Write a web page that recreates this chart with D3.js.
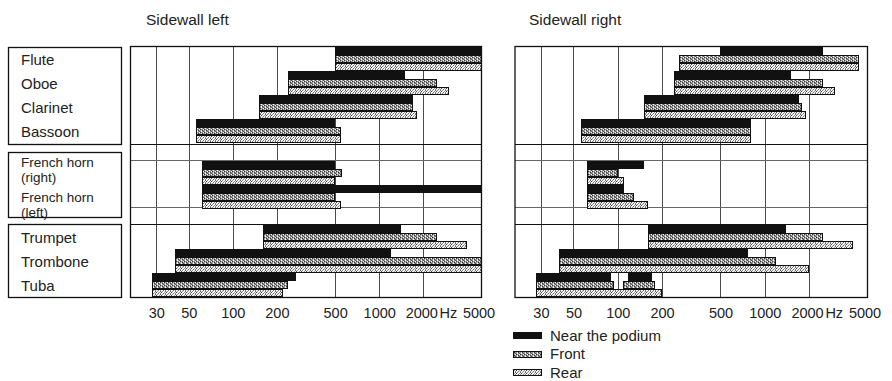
<!DOCTYPE html>
<html><head><meta charset="utf-8">
<script src="https://cdn.jsdelivr.net/npm/d3@7"></script>
<style>
html,body{margin:0;padding:0;background:#fff;}
svg text{font-family:"Liberation Sans",Arial,Helvetica,sans-serif;fill:#222;}
</style></head>
<body>
<svg id="chart" width="892" height="381"></svg>
<script>
// ---------- data ----------
const instruments = ["Flute","Oboe","Clarinet","Bassoon","French horn (right)","French horn (left)","Trumpet","Trombone","Tuba"];
const instrumentGroup = [0,0,0,0,1,1,2,2,2];
const seriesNames = ["Near the podium","Front","Rear"];
const panelTitles = ["Sidewall left","Sidewall right"];
const tickValues = [30,50,100,200,500,1000,2000,5000];
const gridValues = [30,50,100,200,500,1000,2000];
const freqDomain = [20,5000];

// frequency ranges (Hz) per instrument, each a list of [low, high] segments
const leftNear  = [[[500,5000]],[[240,1500]],[[150,1700]],[[56,500]],[[62,500]],[[62,5000]],[[160,1400]],[[40,1200]],[[28,270]]];
const leftFront = [[[500,5000]],[[240,2500]],[[150,1700]],[[56,550]],[[62,560]],[[62,500]],[[160,2500]],[[40,5000]],[[28,240]]];
const leftRear  = [[[500,5000]],[[240,3000]],[[150,1800]],[[56,550]],[[62,500]],[[62,550]],[[160,4000]],[[40,5000]],[[28,220]]];
const rightNear  = [[[500,2500]],[[240,1500]],[[150,1700]],[[56,800]],[[62,150]],[[62,110]],[[160,1400]],[[40,770]],[[28,90],[118,170]]];
const rightFront = [[[260,4400]],[[240,2500]],[[150,1800]],[[56,800]],[[62,100]],[[62,130]],[[160,2500]],[[40,1200]],[[28,95],[108,180]]];
const rightRear  = [[[260,4400]],[[240,3000]],[[150,1900]],[[56,800]],[[62,110]],[[62,160]],[[160,4000]],[[40,2000]],[[28,200]]];

// ---------- layout ----------
const svg = d3.select("#chart");
const plotTop = 47, rowH = 24, barH = 8;
const groupGap = [0, 18, 34];
const plotBottom = plotTop + instruments.length*rowH + groupGap[2];
const rowTop = i => plotTop + i*rowH + groupGap[instrumentGroup[i]];

const defs = svg.append("defs");
// Front pattern: grey halftone
const pf = defs.append("pattern").attr("id","pFront").attr("patternUnits","userSpaceOnUse")
  .attr("width",4).attr("height",3);
pf.append("rect").attr("width",4).attr("height",3).attr("fill","#959595");
[[0,0,"#333"],[2,1,"#333"],[1,2,"#fff"],[3,0,"#fff"],[3,2,"#555"],[1,1,"#ddd"]].forEach(p=>
  pf.append("rect").attr("x",p[0]).attr("y",p[1]).attr("width",1).attr("height",1).attr("fill",p[2]));
// Rear pattern: light crosses
const pr = defs.append("pattern").attr("id","pRear").attr("patternUnits","userSpaceOnUse")
  .attr("width",5).attr("height",3);
pr.append("rect").attr("width",5).attr("height",3).attr("fill","#f2f2f2");
[[0,0,"#666"],[2,0,"#888"],[1,1,"#444"],[3,2,"#777"],[4,1,"#999"],[0,2,"#888"]].forEach(p=>
  pr.append("rect").attr("x",p[0]).attr("y",p[1]).attr("width",1).attr("height",1).attr("fill",p[2]));

const fills = ["#111","url(#pFront)","url(#pRear)"];

const panels = [
  {title:panelTitles[0], range:[130.5,481.5], titleX:146, data:[leftNear,leftFront,leftRear]},
  {title:panelTitles[1], range:[515,867.5], titleX:529, data:[rightNear,rightFront,rightRear]}
];

// label boxes
const boxes = [[47,144],[152,217],[224,297]];
svg.append("g").selectAll("rect").data(boxes).join("rect")
  .attr("x",8.5).attr("y",d=>d[0]+0.5).attr("width",113).attr("height",d=>d[1]-d[0])
  .attr("fill","none").attr("stroke","#111").attr("stroke-width",1.3);

const lab = svg.append("g").attr("font-size",15);
instruments.forEach((name,i)=>{
  const m = name.match(/^(.*) (\(.*\))$/);
  const cy = rowTop(i) + rowH/2;
  if(m){
    const first = instrumentGroup.indexOf(instrumentGroup[i]) === i;
    const y0 = first ? cy - 6 : cy + 5;
    const t = lab.append("text").attr("x",21).attr("y",y0).attr("font-size",13.5);
    t.append("tspan").attr("x",21).text(m[1]);
    t.append("tspan").attr("x",21).attr("dy",15.2).text(m[2]);
  } else {
    lab.append("text").attr("x",21).attr("y",cy+6).text(name);
  }
});

panels.forEach(p=>{
  const x = d3.scaleLog().domain(freqDomain).range(p.range);
  const g = svg.append("g");
  const x0 = p.range[0], x1 = p.range[1];

  svg.append("text").attr("x",p.titleX).attr("y",25).attr("font-size",15.5).text(p.title);

  // vertical grid
  g.append("g").attr("transform",`translate(0,${plotBottom})`)
    .call(d3.axisBottom(x).tickValues(gridValues).tickSize(-(plotBottom-plotTop)).tickFormat(""))
    .call(a=>a.select(".domain").remove())
    .call(a=>a.selectAll("line").attr("stroke","#4a4a4a").attr("stroke-width",1)
        .attr("shape-rendering","crispEdges"));

  // horizontal group lines
  [[144.5,"#111"],[160.5,"#666"],[207.5,"#666"],[224.5,"#111"]].forEach(h=>
    g.append("line").attr("x1",x0).attr("x2",x1).attr("y1",h[0]).attr("y2",h[0])
      .attr("stroke",h[1]).attr("stroke-width",1).attr("shape-rendering","crispEdges"));

  // bars
  p.data.forEach((series,k)=>{
    const segs = [];
    series.forEach((list,i)=>list.forEach(s=>segs.push({i,lo:s[0],hi:s[1]})));
    g.append("g").selectAll("rect").data(segs).join("rect")
      .attr("x",d=>Math.round(x(d.lo)) + (k? 0.5:0))
      .attr("y",d=>rowTop(d.i) + k*barH + (k? 0.5:0))
      .attr("width",d=>Math.round(x(d.hi))-Math.round(x(d.lo)) - (k?1:0))
      .attr("height",barH - (k?1:0))
      .attr("fill",fills[k])
      .attr("stroke",k? "#111":"none").attr("stroke-width",1)
      .attr("shape-rendering","crispEdges");
  });

  // frame
  g.append("rect").attr("x",x0).attr("y",plotTop-0.5).attr("width",x1-x0).attr("height",plotBottom-plotTop+1)
    .attr("fill","none").attr("stroke","#111").attr("stroke-width",1.3);

  // tick labels
  const ax = g.append("g").attr("transform",`translate(0,${plotBottom+6})`)
    .call(d3.axisBottom(x).tickValues(tickValues).tickSize(0).tickFormat(d3.format("d")));
  ax.select(".domain").remove();
  ax.selectAll("text").attr("font-size",14.5).attr("fill","#222")
    .attr("font-family","'Liberation Sans',Arial,sans-serif").attr("dy","0.85em")
    .attr("dx",d=>d>=5000?-3:(d>=2000?-2:0));
  g.append("text").attr("x",(x(2000)+x(5000))/2 - 4).attr("y",plotBottom+21).attr("text-anchor","middle")
    .attr("font-size",14.5).text("Hz");
});

// legend
const lg = svg.append("g");
seriesNames.forEach((s,k)=>{
  const y = 332 + k*18.5;
  lg.append("rect").attr("x",513+(k?0.5:0)).attr("y",y+(k?0.5:0)).attr("width",29-(k?1:0)).attr("height",7-(k?1:0))
    .attr("fill",fills[k]).attr("stroke",k?"#111":"none").attr("shape-rendering","crispEdges");
  lg.append("text").attr("x",550).attr("y",y+8.5).attr("font-size",15).text(s);
});
</script>
</body></html>
